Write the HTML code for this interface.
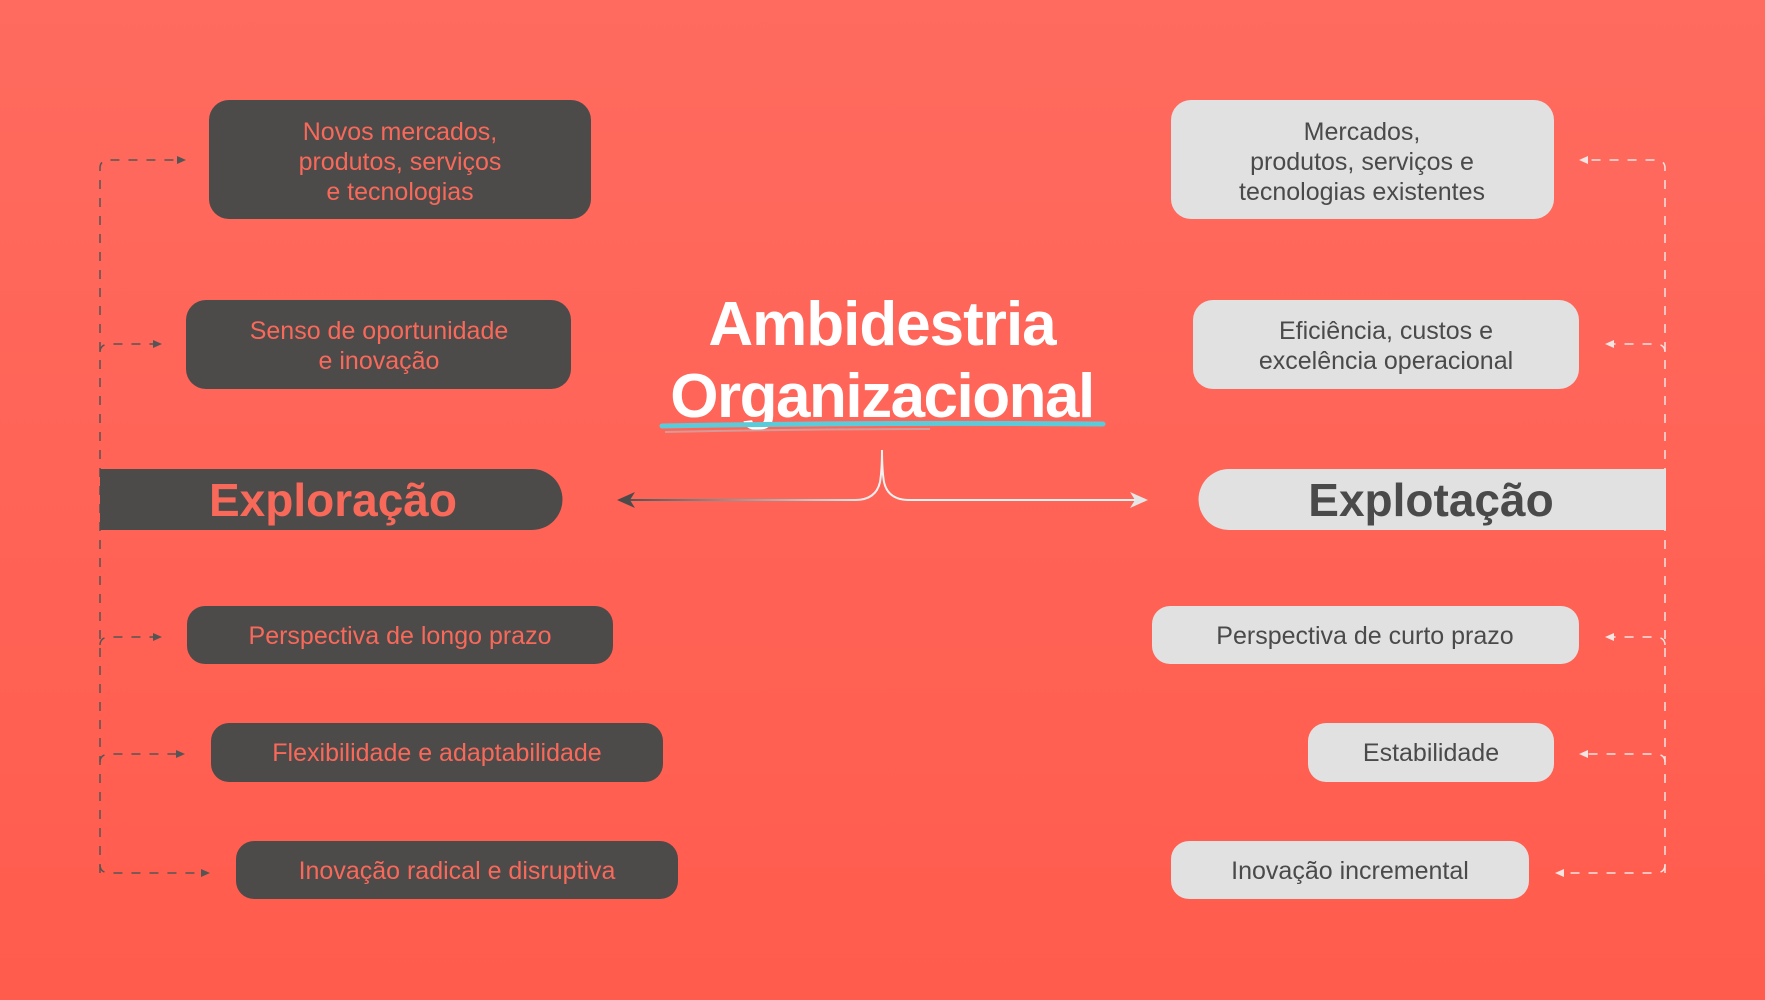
<!DOCTYPE html>
<html><head><meta charset="utf-8"><style>
html,body{margin:0;padding:0;width:1765px;height:1000px;overflow:hidden}
body{background:linear-gradient(180deg,#ff6b5f 0%,#ff5c4d 100%);font-family:"Liberation Sans",sans-serif}
svg{position:absolute;left:0;top:0}
</style></head><body>
<svg width="1765" height="1000" viewBox="0 0 1765 1000" xmlns="http://www.w3.org/2000/svg">
<defs>
<linearGradient id="ag" x1="617" y1="0" x2="880" y2="0" gradientUnits="userSpaceOnUse">
<stop offset="0" stop-color="#4d4a4a"/><stop offset="1" stop-color="#f2f2f2"/></linearGradient>
</defs>
<!-- left dashed connector -->
<g fill="none" stroke="#555" stroke-width="1.5" stroke-dasharray="9 9">
<path d="M100 873 V168 Q100 160 110 160 H180"/>
<path d="M100 352 Q100 344 110 344 H156"/>
<path d="M100 645 Q100 637 110 637 H156"/>
<path d="M100 762 Q100 754 110 754 H179"/>
<path d="M100 865 Q100 873 110 873 H204"/>
</g>
<g fill="#555">
<path d="M186 160 l-9 -4 v8z"/><path d="M162 344 l-9 -4 v8z"/><path d="M162 637 l-9 -4 v8z"/><path d="M185 754 l-9 -4 v8z"/><path d="M210 873 l-9 -4 v8z"/>
</g>
<!-- right dashed connector -->
<g fill="none" stroke="#f4e4e2" stroke-width="1.5" stroke-dasharray="9 9">
<path d="M1665 873 V168 Q1665 160 1655 160 H1585"/>
<path d="M1665 352 Q1665 344 1655 344 H1611"/>
<path d="M1665 645 Q1665 637 1655 637 H1611"/>
<path d="M1665 762 Q1665 754 1655 754 H1585"/>
<path d="M1665 865 Q1665 873 1655 873 H1561"/>
</g>
<g fill="#f4e4e2">
<path d="M1579 160 l9 -4 v8z"/><path d="M1605 344 l9 -4 v8z"/><path d="M1605 637 l9 -4 v8z"/><path d="M1579 754 l9 -4 v8z"/><path d="M1555 873 l9 -4 v8z"/>
</g>
<!-- left boxes -->
<g fill="#4d4a4a">
<rect x="209" y="100" width="382" height="119" rx="20"/>
<rect x="186" y="300" width="385" height="89" rx="20"/>
<path d="M100 469 H532 A30.5 30.5 0 0 1 532 530 H100 Z"/>
<rect x="187" y="606" width="426" height="58" rx="18"/>
<rect x="211" y="723" width="452" height="59" rx="18"/>
<rect x="236" y="841" width="442" height="58" rx="18"/>
</g>
<g fill="#f8695a" font-size="25" text-anchor="middle">
<text x="400" y="140">Novos mercados,</text>
<text x="400" y="170">produtos, serviços</text>
<text x="400" y="200">e tecnologias</text>
<text x="379" y="339">Senso de oportunidade</text>
<text x="379" y="369">e inovação</text>
<text x="400" y="644">Perspectiva de longo prazo</text>
<text x="437" y="761">Flexibilidade e adaptabilidade</text>
<text x="457" y="879">Inovação radical e disruptiva</text>
<text x="333" y="516" font-size="46" font-weight="bold">Exploração</text>
</g>
<!-- right boxes -->
<g fill="#e1e1e1">
<rect x="1171" y="100" width="383" height="119" rx="20"/>
<rect x="1193" y="300" width="386" height="89" rx="20"/>
<path d="M1666 469 H1229 A30.5 30.5 0 0 0 1229 530 H1666 Z"/>
<rect x="1152" y="606" width="427" height="58" rx="18"/>
<rect x="1308" y="723" width="246" height="59" rx="18"/>
<rect x="1171" y="841" width="358" height="58" rx="18"/>
</g>
<g fill="#4a4a4a" font-size="25" text-anchor="middle">
<text x="1362" y="140">Mercados,</text>
<text x="1362" y="170">produtos, serviços e</text>
<text x="1362" y="200">tecnologias existentes</text>
<text x="1386" y="339">Eficiência, custos e</text>
<text x="1386" y="369">excelência operacional</text>
<text x="1365" y="644">Perspectiva de curto prazo</text>
<text x="1431" y="761">Estabilidade</text>
<text x="1350" y="879">Inovação incremental</text>
<text x="1431" y="516" font-size="46" font-weight="bold">Explotação</text>
</g>
<!-- title -->
<g fill="#fff" font-weight="bold" text-anchor="middle">
<text x="882" y="345" font-size="62" letter-spacing="-1">Ambidestria</text>
<text x="882" y="417" font-size="62" letter-spacing="-1.5">Organizacional</text>
</g>
<path d="M662 426 Q880 422 1103 424" stroke="#5ccbd9" stroke-width="5" fill="none" stroke-linecap="round"/>
<path d="M665 432 Q800 429 930 429" stroke="#c9a9a9" stroke-width="2" fill="none" opacity="0.8"/>
<!-- arrows -->
<path d="M622 500 H855 Q876 500 880 482 Q882 470 882 450 Q882 470 884 482 Q888 500 909 500 H1140" fill="none" stroke="url(#ag)" stroke-width="2"/>
<path d="M909 500 H1140" stroke="#f2f2f2" stroke-width="2"/>
<path d="M617 500 l18 -8 l-5 8 l5 8z" fill="#4d4a4a"/>
<path d="M1148 500 l-18 -8 l5 8 l-5 8z" fill="#e6e6e6"/>
</svg>
</body></html>
